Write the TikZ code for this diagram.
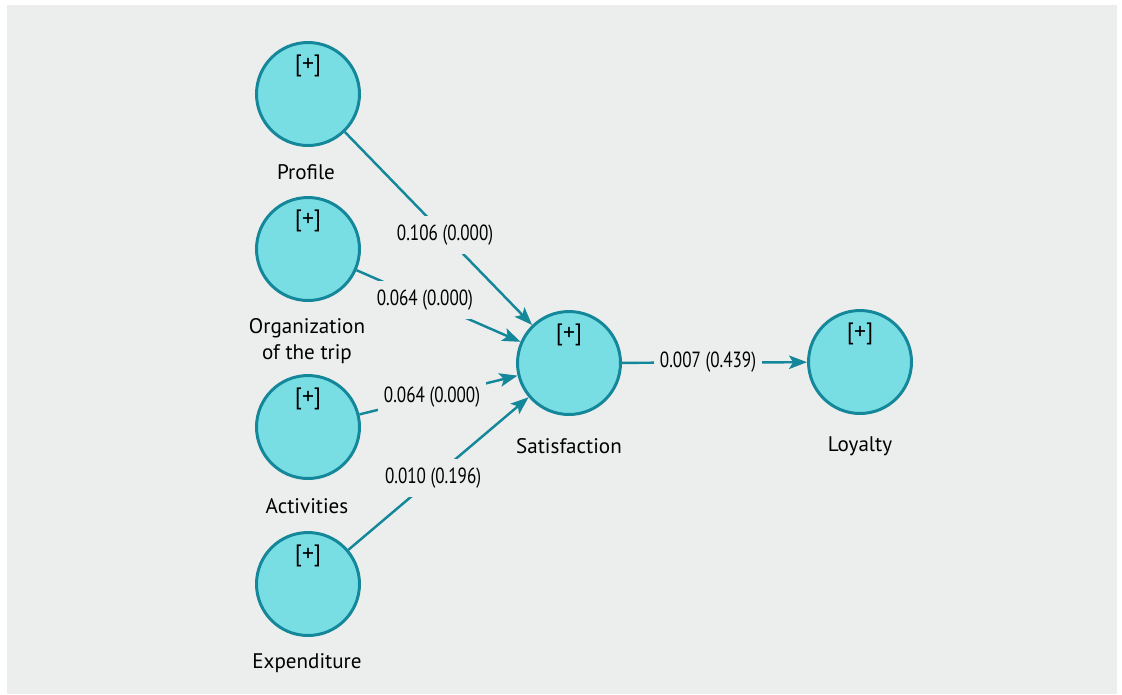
\documentclass[tikz,border=0pt]{standalone}
\usepackage{fontspec}
\setmainfont{PT Sans}
\newfontfamily\coeffont{PT Sans}[FakeStretch=0.78]
\usepackage{tikz}
\usetikzlibrary{arrows.meta}
\usepackage{xcolor}
\definecolor{canvas}{HTML}{ECEEED}
\definecolor{lvfill}{HTML}{78DEE4}
\definecolor{lvline}{HTML}{14879A}

\begin{document}
\begin{tikzpicture}[x=0.02cm,y=-0.02cm]

    \tikzset{latent/.style = {shape=circle,draw=lvline,fill=lvfill,line width=1.7pt,minimum size=2.06cm,inner sep=0pt}}
    \tikzset{plus/.style = {font=\fontsize{13.5}{15}\selectfont,inner sep=0pt}}
    \tikzset{lvname/.style = {font=\fontsize{12}{15}\selectfont,align=center,inner sep=0pt}}
    \tikzset{coef/.style = {font=\coeffont\fontsize{12.5}{14}\selectfont,fill=canvas,inner xsep=0.12cm,inner ysep=0.18cm}}
    \tikzset{edge/.style = {draw=lvline,line width=1.4pt,-{Stealth[length=0.36cm,width=0.27cm,inset=0.08cm]}}}
    \useasboundingbox (0,0) rectangle (1122,694);
    \fill[canvas] (7,5) rectangle (1117,694);
    % latent variables
    \node[latent] (prof) at (308,94)  {};
    \node[latent] (org)  at (308,249) {};
    \node[latent] (act)  at (308,427) {};
    \node[latent] (expd) at (308,584) {};
    \node[latent] (sat)  at (569,363) {};
    \node[latent] (loy)  at (860,362) {};
    \node[plus] (prof-p) at (308,66)  {[+]};
    \node[plus] (org-p)  at (308,221) {[+]};
    \node[plus] (act-p)  at (308,399) {[+]};
    \node[plus] (expd-p) at (308,556) {[+]};
    \node[plus] (sat-p)  at (569,335) {[+]};
    \node[plus] (loy-p)  at (860,334) {[+]};
    % names
    \node[lvname] (prof-n) at (306,172) {Profile};
    \node[lvname] (org-n)  at (307,341) {Organization\\of the trip};
    \node[lvname] (act-n)  at (307,506) {Activities};
    \node[lvname] (expd-n) at (307,663) {Expenditure};
    \node[lvname] (sat-n)  at (569,446) {Satisfaction};
    \node[lvname] (loy-n)  at (860,446) {Loyalty};
    %edges
    \draw[edge] (prof) to node[coef,pos=0.535] (c1) {0.106 (0.000)} (sat);
    \draw[edge] (org)  to node[coef,pos=0.417] (c2) {0.064 (0.000)} (sat);
    \draw[edge] (act)  to node[coef,pos=0.459] (c3) {0.064 (0.000)} (sat);
    \draw[edge] (expd) to node[coef,pos=0.470] (c4) {0.010 (0.196)} (sat);
    \draw[edge] (sat)  to node[coef,pos=0.465] (c5) {0.007 (0.439)} (loy);
\end{tikzpicture}
\end{document}
